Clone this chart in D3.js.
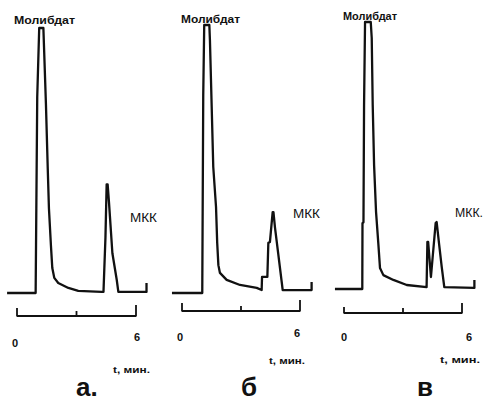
<!DOCTYPE html>
<html><head><meta charset="utf-8">
<script src="https://cdn.jsdelivr.net/npm/d3@7"></script>
<style>
html,body{margin:0;padding:0;background:#fff;}
svg{display:block;}
text{font-family:"Liberation Sans",Arial,sans-serif;fill:#111;}
</style></head>
<body>
<svg id="chart" width="488" height="402"></svg>
<script>
// ---- data (time in minutes, signal in % of molybdate peak) ----
const timeA   = [-0.50,0.94,1.02,1.12,1.33,1.46,1.55,1.61,1.71,1.78,1.88,2.08,2.59,3.09,4.27,4.36,4.46,4.52,4.57,4.64,4.81,5.03,5.11,6.53,6.53];
const signalA = [0,0,74,100,100,71,47,32,18,9.4,5.7,3.8,1.9,0.8,0.4,0.4,21,41,41,34,15,4.9,0.4,0.4,3.8];

const timeB   = [-0.51,1.03,1.08,1.13,1.39,1.42,1.51,1.59,1.73,1.79,1.85,1.93,2.27,2.95,3.80,4.05,4.07,4.34,4.39,4.47,4.61,4.65,4.73,4.90,5.07,5.12,6.59,6.59];
const signalB = [0,0,73.9,100,100,94.4,69.4,47,32.1,18.7,10.4,7.5,4.9,3.0,1.9,1.1,6.0,6.0,18.7,19,30.2,30.2,24.3,14.2,4.1,1.1,1.1,4.1];

const timeC   = [-0.46,0.93,0.94,0.99,1.02,1.07,1.36,1.41,1.46,1.53,1.63,1.75,1.83,2.00,2.51,3.19,4.20,4.24,4.28,4.42,4.54,4.66,4.71,4.83,4.97,5.10,6.63,6.63];
const signalC = [0,0,24.7,25,68.9,100,100,94,68.9,46.4,28.8,16.5,7.9,5.2,3.4,1.5,0.7,17.6,17.6,4.5,14.6,24.7,25.1,17.2,8.2,0.7,0.4,3.4];

const axisTicks   = [0,3,6];
const tickLabels  = ["0","6"];
const tickValues  = [0,6];
const axisTitle   = "t, мин.";
const peak1Label  = "Молибдат";
const peak2Labels = ["МКК","МКК","МКК."];
const panelLetters = ["а.","б","в"];

// ---- layout ----
const panels = [
  {t:timeA, s:signalA, x0:17,  x6:136, base:293, top:28, axisY:316, tickH:[8,5,11],
   p1:{x:14, y:24, w:61}, p2:{x:130,y:222,w:27}, lab0:{x:12,y:347}, lab6:{x:134,y:341}, title:{x:113,y:373,w:37}, letter:{x:76,y:396}},
  {t:timeB, s:signalB, x0:182, x6:300, base:293, top:25, axisY:311, tickH:[8,5,11],
   p1:{x:181, y:23, w:59}, p2:{x:293,y:218,w:27}, lab0:{x:177,y:341}, lab6:{x:294,y:337}, title:{x:269,y:364,w:36}, letter:{x:241,y:396}},
  {t:timeC, s:signalC, x0:344, x6:462, base:289, top:22, axisY:313, tickH:[6,5,10],
   p1:{x:343, y:20, w:54}, p2:{x:455,y:217,w:28}, lab0:{x:341,y:341}, lab6:{x:466,y:341}, title:{x:440,y:363,w:40}, letter:{x:417,y:396}}
];

const svg = d3.select("#chart");

panels.forEach((p,i)=>{
  const x = d3.scaleLinear().domain([0,6]).range([p.x0,p.x6]);
  const y = d3.scaleLinear().domain([0,100]).range([p.base,p.top]);
  const pts = p.t.map((t,k)=>[t,p.s[k]]);
  const line = d3.line().x(d=>x(d[0])).y(d=>y(d[1]));
  const g = svg.append("g");
  g.append("path").datum(pts).attr("d",line)
    .attr("fill","none").attr("stroke","#111").attr("stroke-width",2.3)
    .attr("stroke-linejoin","round");

  // time axis bracket
  const ax = g.append("g").attr("transform",`translate(0,${p.axisY})`);
  ax.append("line").attr("x1",x(0)).attr("x2",x(6)).attr("y1",0).attr("y2",0)
    .attr("stroke","#111").attr("stroke-width",1.8);
  ax.selectAll("line.tk").data(axisTicks).join("line").attr("class","tk")
    .attr("x1",d=>x(d)).attr("x2",d=>x(d)).attr("y1",0.5).attr("y2",(d,k)=>-p.tickH[k])
    .attr("stroke","#111").attr("stroke-width",1.8);

  // tick labels
  const labPos = [p.lab0,p.lab6];
  tickValues.forEach((v,k)=>{
    g.append("text").attr("x",labPos[k].x).attr("y",labPos[k].y)
      .attr("font-size",11).attr("font-weight","bold").text(tickLabels[k]);
  });
  g.append("text").attr("x",p.title.x).attr("y",p.title.y)
    .attr("font-size",9).attr("font-weight","bold")
    .attr("textLength",p.title.w).attr("lengthAdjust","spacingAndGlyphs").text(axisTitle);

  // peak labels
  g.append("text").attr("x",p.p1.x).attr("y",p.p1.y)
    .attr("font-size",11).attr("font-weight","bold")
    .attr("textLength",p.p1.w).attr("lengthAdjust","spacingAndGlyphs").text(peak1Label);
  g.append("text").attr("x",p.p2.x).attr("y",p.p2.y)
    .attr("font-size",12)
    .attr("textLength",p.p2.w).attr("lengthAdjust","spacingAndGlyphs").text(peak2Labels[i]);

  // panel letter
  g.append("text").attr("x",p.letter.x).attr("y",p.letter.y)
    .attr("font-size",26).attr("font-weight","bold").text(panelLetters[i]);
});
</script>
</body></html>
